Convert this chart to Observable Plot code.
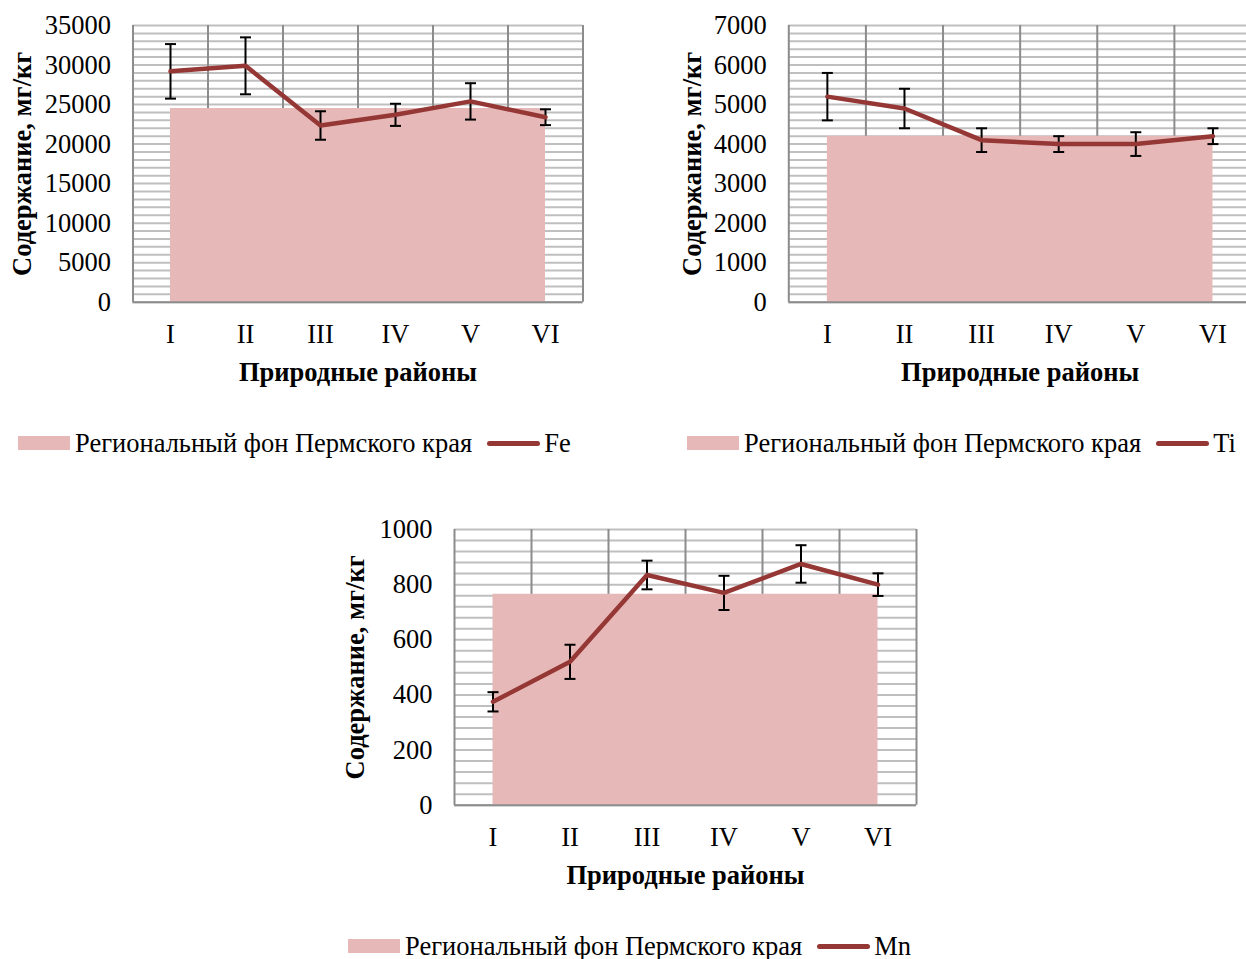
<!DOCTYPE html>
<html>
<head>
<meta charset="utf-8">
<script src="https://cdn.jsdelivr.net/npm/d3@7"></script>
<script src="https://cdn.jsdelivr.net/npm/@observablehq/plot@0.6"></script>
<style>
  html, body { margin: 0; padding: 0; background: #fff; overflow: hidden; width: 1246px; height: 959px; }
  body { position: relative; font-family: "Liberation Serif", "Times New Roman", serif; }
  .chart { position: absolute; height: 400px; }
  .chart svg { max-width: none !important; }
  .legend { position: absolute; display: flex; align-items: center; height: 30px; font-size: 26.5px; color: #000; white-space: nowrap; }
  .sw-area { display: inline-block; width: 52px; height: 14px; background: #e6b8b7; margin-right: 5px; }
  .sw-line { display: inline-block; width: 53px; height: 5px; background: #953735; border-radius: 2.5px; margin-left: 15px; margin-right: 4px; }
</style>
</head>
<body>
<div id="fe" class="chart" style="left:0px; top:0px; width:620px;"></div>
<div id="ti" class="chart" style="left:650px; top:0px; width:620px;"></div>
<div id="mn" class="chart" style="left:320px; top:500px; width:640px;"></div>

<div class="legend" style="left:18px; top:428px;"><span class="sw-area"></span><span>Региональный фон Пермского края</span><span class="sw-line"></span><span>Fe</span></div>
<div class="legend" style="left:687px; top:428px;"><span class="sw-area"></span><span>Региональный фон Пермского края</span><span class="sw-line"></span><span>Ti</span></div>
<div class="legend" style="left:348px; top:931px;"><span class="sw-area"></span><span>Региональный фон Пермского края</span><span class="sw-line"></span><span>Mn</span></div>

<script>
// ---- data ----
const regions = ["I", "II", "III", "IV", "V", "VI"];

const feMean = [29200, 29900, 22350, 23700, 25400, 23400];
const feErr  = [3450, 3600, 1800, 1400, 2300, 1000];
const feBackground = 24500;

const tiMean = [5200, 4900, 4100, 4000, 4000, 4200];
const tiErr  = [600, 500, 300, 200, 300, 200];
const tiBackground = 4200;

const mnMean = [375, 520, 835, 770, 875, 800];
const mnErr  = [35, 62, 52, 62, 68, 41];
const mnBackground = 765;

const yAxisTitle = "Содержание, мг/кг";
const xAxisTitle = "Природные районы";

// ---- chart builder ----
const capSymbol = {
  draw(ctx, size) {
    const r = Math.sqrt(size / Math.PI);
    ctx.moveTo(-r, 0);
    ctx.lineTo(r, 0);
  }
};

const FS = 26.5;

function chart(cfg) {
  const {mean, err, bg, yMax, yTick, gridStep, width, height, ml, mr, mt, mb, titleOffset} = cfg;
  const data = regions.map((r, i) => ({i, r, v: mean[i], lo: mean[i] - err[i], hi: mean[i] + err[i], bg}));
  const idx = regions.map((_, i) => i);
  const bounds = regions.slice(1).map((_, i) => i + 0.5);
  return Plot.plot({
    width, height,
    marginLeft: ml, marginRight: mr, marginTop: mt, marginBottom: mb,
    style: {fontFamily: "'Liberation Serif', 'Times New Roman', serif", fontSize: FS + "px", color: "#000", background: "transparent", overflow: "visible", maxWidth: "none"},
    x: {domain: [-0.5, regions.length - 0.5], axis: null},
    y: {domain: [0, yMax], axis: null},
    marks: [
      Plot.ruleY(d3.range(0, yMax + gridStep / 2, gridStep), {stroke: "#bfbfbf", strokeWidth: 2}),
      Plot.ruleX(bounds, {stroke: "#8c8c8c", strokeWidth: 2}),
      Plot.areaY(data, {x: "i", y: "bg", fill: "#e6b8b7"}),
      Plot.ruleX([-0.5, regions.length - 0.5], {stroke: "#8c8c8c", strokeWidth: 2}),
      Plot.ruleY([0], {stroke: "#8c8c8c", strokeWidth: 2}),
      Plot.ruleX(data, {x: "i", y1: "lo", y2: "hi", stroke: "#000", strokeWidth: 2}),
      Plot.dot(data, {x: "i", y: "lo", symbol: capSymbol, r: 5.5, stroke: "#000", fill: "none", strokeWidth: 2}),
      Plot.dot(data, {x: "i", y: "hi", symbol: capSymbol, r: 5.5, stroke: "#000", fill: "none", strokeWidth: 2}),
      Plot.line(data, {x: "i", y: "v", stroke: "#953735", strokeWidth: 4.5, strokeLinejoin: "round", strokeLinecap: "round"}),
      Plot.axisX({ticks: idx, tickFormat: i => regions[i], tickSize: 0, tickPadding: 22, label: null, fontSize: FS}),
      Plot.axisY({ticks: d3.range(0, yMax + 1, yTick), tickFormat: d => String(d), tickSize: 0, tickPadding: 22, label: null, fontSize: FS}),
      Plot.text([yAxisTitle], {frameAnchor: "left", rotate: -90, dx: -titleOffset, textAnchor: "middle", lineAnchor: "middle", fontWeight: "bold", fontSize: FS}),
      Plot.text([xAxisTitle], {frameAnchor: "bottom", dy: 70, textAnchor: "middle", lineAnchor: "middle", fontWeight: "bold", fontSize: FS})
    ]
  });
}

document.getElementById("fe").append(chart({
  mean: feMean, err: feErr, bg: feBackground, yMax: 35000, yTick: 5000, gridStep: 1000,
  width: 620, height: 400, ml: 132.5, mr: 37.5, mt: 25, mb: 98.3, titleOffset: 110
}));
document.getElementById("ti").append(chart({
  mean: tiMean, err: tiErr, bg: tiBackground, yMax: 7000, yTick: 1000, gridStep: 200,
  width: 620, height: 400, ml: 138.3, mr: 19, mt: 25, mb: 98.3, titleOffset: 96
}));
document.getElementById("mn").append(chart({
  mean: mnMean, err: mnErr, bg: mnBackground, yMax: 1000, yTick: 200, gridStep: 40,
  width: 640, height: 400, ml: 134, mr: 44, mt: 29, mb: 95.3, titleOffset: 99
}));
</script>
</body>
</html>
